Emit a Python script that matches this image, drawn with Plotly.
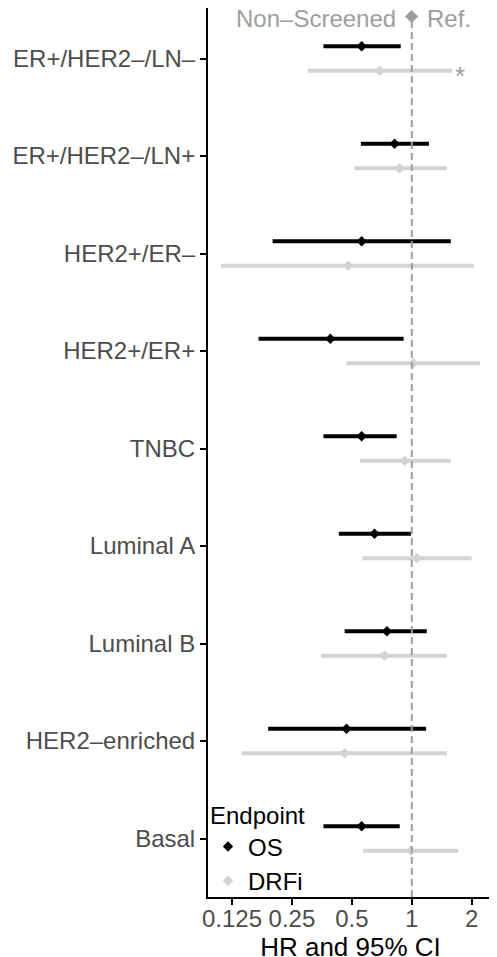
import math
import plotly.graph_objects as go

# subtypes, top to bottom
subtypes = ["ER+/HER2–/LN–", "ER+/HER2–/LN+", "HER2+/ER–", "HER2+/ER+", "TNBC",
            "Luminal A", "Luminal B", "HER2–enriched", "Basal"]

# overall survival
os_hr = [0.56, 0.82, 0.56, 0.39, 0.56, 0.65, 0.75, 0.47, 0.56]
os_lo = [0.36, 0.555, 0.20, 0.17, 0.36, 0.43, 0.46, 0.19, 0.36]
os_hi = [0.88, 1.22, 1.57, 0.91, 0.84, 0.99, 1.19, 1.18, 0.87]

# distant recurrence free interval
drfi_hr = [0.69, 0.87, 0.48, 1.02, 0.92, 1.06, 0.73, 0.46, 0.99]
drfi_lo = [0.30, 0.515, 0.11, 0.47, 0.55, 0.565, 0.35, 0.14, 0.57]
drfi_hi = [1.60, 1.50, 2.05, 2.20, 1.57, 2.00, 1.50, 1.50, 1.71]
drfi_star = [True, False, False, False, False, False, False, False, False]

hr_ticks = [0.125, 0.25, 0.5, 1, 2]
hr_ticktext = ["0.125", "0.25", "0.5", "1", "2"]

FONT = "Liberation Sans, Arial, Helvetica, sans-serif"
OS_COL = "#000000"
DRFI_COL = "#d3d3d3"
REF_COL = "#9e9e9e"

pos = list(range(len(subtypes), 0, -1))
dodge = 0.125

fig = go.Figure()

# OS
fig.add_trace(go.Scatter(
    x=os_hr, y=[p + dodge for p in pos], mode="markers", name="OS",
    marker=dict(symbol="diamond", size=8, color=OS_COL),
    error_x=dict(type="data", symmetric=False,
                 array=[h - m for h, m in zip(os_hi, os_hr)],
                 arrayminus=[m - l for m, l in zip(os_hr, os_lo)],
                 color=OS_COL, thickness=4, width=0),
))

# DRFi
fig.add_trace(go.Scatter(
    x=drfi_hr, y=[p - dodge for p in pos], mode="markers", name="DRFi",
    marker=dict(symbol="diamond", size=8, color=DRFI_COL),
    error_x=dict(type="data", symmetric=False,
                 array=[h - m for h, m in zip(drfi_hi, drfi_hr)],
                 arrayminus=[m - l for m, l in zip(drfi_hr, drfi_lo)],
                 color=DRFI_COL, thickness=4, width=0),
))

# reference line at HR = 1
fig.add_shape(type="line", xref="x", yref="paper", x0=1, x1=1, y0=0, y1=0.992,
              line=dict(color=REF_COL, width=2, dash="7px,4px"))

# header over the reference line
fig.add_annotation(x=0, xref="x", y=1, yref="paper", yanchor="top", xanchor="right",
                   text="Non–Screened", showarrow=False, xshift=-14, yshift=5,
                   font=dict(family=FONT, size=24, color=REF_COL))
fig.add_annotation(x=0, xref="x", y=1, yref="paper", yanchor="top", xanchor="center",
                   text="◆", showarrow=False, yshift=5,
                   font=dict(family="DejaVu Sans", size=17, color=REF_COL))
fig.add_annotation(x=0, xref="x", y=1, yref="paper", yanchor="top", xanchor="left",
                   text="Ref.", showarrow=False, xshift=13, yshift=5,
                   font=dict(family=FONT, size=24, color=REF_COL))

# significance stars
for i, s in enumerate(drfi_star):
    if s:
        fig.add_annotation(x=math.log10(drfi_hi[i]), y=pos[i] - dodge, xref="x", yref="y",
                           text="*", showarrow=False, xanchor="left", xshift=1, yshift=-5,
                           font=dict(family=FONT, size=26, color=REF_COL))

fig.update_xaxes(type="log", range=[-1.0235, 0.408],
                 tickvals=hr_ticks, ticktext=hr_ticktext,
                 showline=True, linecolor="black", linewidth=2,
                 ticks="outside", ticklen=6, tickwidth=1.5, tickcolor="black",
                 ticklabelstandoff=-7,
                 showgrid=False, zeroline=False,
                 tickfont=dict(family=FONT, size=24, color="#4d4d4d"),
                 title=dict(text="HR and 95% CI", standoff=6,
                            font=dict(family=FONT, size=26, color="black")))
fig.update_yaxes(range=[0.4, 9.518], tickvals=pos, ticktext=subtypes,
                 showline=True, linecolor="black", linewidth=2,
                 ticks="outside", ticklen=6, tickwidth=1.5, tickcolor="black",
                 showgrid=False, zeroline=False,
                 tickfont=dict(family=FONT, size=24, color="#4d4d4d"))

# page body has an 8px margin, so margins are set to land the panel where it should
fig.update_layout(
    width=497, height=957,
    margin=dict(l=200, r=12, t=0, b=68),
    plot_bgcolor="white", paper_bgcolor="white",
    font=dict(family=FONT, color="black"),
    legend=dict(x=0.0, y=-0.007, xanchor="left", yanchor="bottom",
                bgcolor="rgba(0,0,0,0)",
                title=dict(text="Endpoint", font=dict(family=FONT, size=24, color="black")),
                font=dict(family=FONT, size=24, color="black"),
                itemwidth=30, tracegroupgap=0),
)

fig.write_html("out.html")
